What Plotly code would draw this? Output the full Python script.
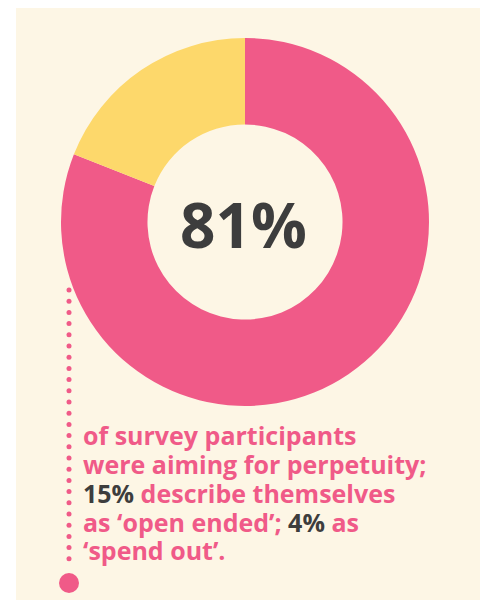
import numpy as np
import plotly.graph_objects as go

# Survey shares (%)
categories = ["Perpetuity", "Open ended", "Spend out"]
shares = [81, 15, 4]

PINK = "#F05A88"
YELLOW = "#FDD86B"
DARK = "#3D3D3D"
CREAM = "#FDF6E5"

W, H = 488, 600

# Donut: perpetuity vs. everything else
donut_labels = [categories[0], "Other"]
donut_values = [shares[0], shares[1] + shares[2]]

fig = go.Figure()

cx, cy, r = 245, 222, 184
fig.add_trace(go.Pie(
    labels=donut_labels,
    values=donut_values,
    hole=0.53,
    sort=False,
    direction="clockwise",
    rotation=0,
    marker=dict(colors=[PINK, YELLOW], line=dict(width=0)),
    textinfo="none",
    hoverinfo="label+percent",
    showlegend=False,
    domain=dict(x=[(cx - r) / W, (cx + r) / W],
                y=[1 - (cy + r) / H, 1 - (cy - r) / H]),
))

# Dotted leader line with end bullet
dot_y = 290 + 11.2 * np.arange(25)
fig.add_trace(go.Scatter(
    x=[69] * len(dot_y), y=dot_y, mode="markers",
    marker=dict(size=5, color=PINK), hoverinfo="skip", showlegend=False,
))
fig.add_trace(go.Scatter(
    x=[69], y=[583], mode="markers",
    marker=dict(size=20, color=PINK), hoverinfo="skip", showlegend=False,
))

# Cream card behind everything
fig.add_shape(type="rect", xref="x", yref="y", x0=16, x1=480, y0=8, y1=600,
              fillcolor=CREAM, line=dict(width=0), layer="below")

# Centre figure
fig.add_annotation(x=243, y=224, xref="x", yref="y", text=f"<b>{shares[0]}%</b>",
                   showarrow=False, font=dict(family="Open Sans", size=62, color=DARK),
                   xanchor="center", yanchor="middle")

def pk(s):
    return f"<span style='color:{PINK}'>{s}</span>"

def dk(s):
    return f"<span style='color:{DARK}'>{s}</span>"

lines = [
    pk("of survey participants"),
    pk("were aiming for perpetuity;"),
    dk(f"{shares[1]}%") + pk(" describe themselves"),
    pk("as ‘open ended’; ") + dk(f"{shares[2]}%") + pk(" as"),
    pk("‘spend out’."),
]
baselines = [443, 472, 501, 530, 558]
for txt, b in zip(lines, baselines):
    fig.add_annotation(x=82, y=b - 8, xref="x", yref="y", text=f"<b>{txt}</b>",
                       showarrow=False, font=dict(family="Open Sans", size=25),
                       xanchor="left", yanchor="middle", align="left",
                       borderpad=0)

fig.update_layout(
    width=W, height=H,
    margin=dict(l=0, r=0, t=0, b=0),
    paper_bgcolor="white",
    plot_bgcolor="rgba(0,0,0,0)",
    xaxis=dict(range=[0, W], visible=False, fixedrange=True),
    yaxis=dict(range=[H, 0], visible=False, fixedrange=True),
)

fig.write_html("out.html")
